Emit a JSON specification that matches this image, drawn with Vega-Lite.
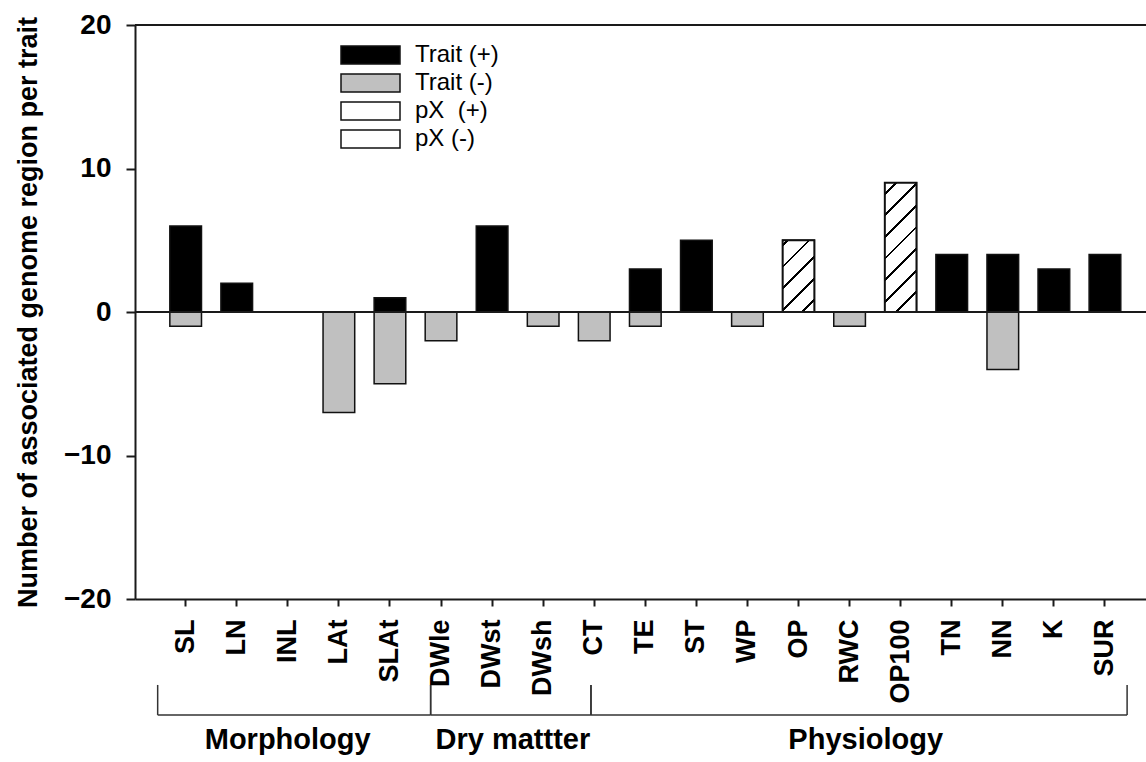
{
  "$schema": "https://vega.github.io/schema/vega-lite/v6.json",
  "width": 1011,
  "height": 574,
  "autosize": {"type": "none"},
  "padding": {"left": 135, "top": 25, "right": 0, "bottom": 163},
  "background": "white",
  "config": {
    "view": {"stroke": null},
    "font": "Liberation Sans",
    "axis": {
      "domainColor": "#1a1a1a",
      "tickColor": "#1a1a1a",
      "labelColor": "#000000",
      "titleColor": "#000000",
      "labelFont": "Liberation Sans",
      "titleFont": "Liberation Sans",
      "grid": false
    }
  },
  "datasets": {
    "bars": [
      {"trait": "SL", "kind": "Trait (+)", "value": 6},
      {"trait": "SL", "kind": "Trait (-)", "value": -1},
      {"trait": "LN", "kind": "Trait (+)", "value": 2},
      {"trait": "LAt", "kind": "Trait (-)", "value": -7},
      {"trait": "SLAt", "kind": "Trait (+)", "value": 1},
      {"trait": "SLAt", "kind": "Trait (-)", "value": -5},
      {"trait": "DWle", "kind": "Trait (-)", "value": -2},
      {"trait": "DWst", "kind": "Trait (+)", "value": 6},
      {"trait": "DWsh", "kind": "Trait (-)", "value": -1},
      {"trait": "CT", "kind": "Trait (-)", "value": -2},
      {"trait": "TE", "kind": "Trait (+)", "value": 3},
      {"trait": "TE", "kind": "Trait (-)", "value": -1},
      {"trait": "ST", "kind": "Trait (+)", "value": 5},
      {"trait": "WP", "kind": "Trait (-)", "value": -1},
      {"trait": "OP", "kind": "pX\u00a0 (+)", "value": 5},
      {"trait": "RWC", "kind": "Trait (-)", "value": -1},
      {"trait": "OP100", "kind": "pX\u00a0 (+)", "value": 9},
      {"trait": "TN", "kind": "Trait (+)", "value": 4},
      {"trait": "NN", "kind": "Trait (+)", "value": 4},
      {"trait": "NN", "kind": "Trait (-)", "value": -4},
      {"trait": "K", "kind": "Trait (+)", "value": 3},
      {"trait": "SUR", "kind": "Trait (+)", "value": 4}
    ],
    "groups": [
      {"group": "Morphology", "from": 0.444, "to": 5.79, "center": 2.99},
      {"group": "Dry mattter", "from": 5.79, "to": 8.93, "center": 7.4},
      {"group": "Physiology", "from": 8.93, "to": 19.43, "center": 14.31}
    ],
    "refs": [
      {"ref": 20},
      {"ref": 0}
    ]
  },
  "layer": [
    {
      "layer": [
        {
          "data": {"name": "bars"},
          "mark": {"type": "bar", "stroke": "#111111", "strokeWidth": 1.5},
          "encoding": {
            "x": {
              "field": "trait",
              "type": "nominal",
              "sort": null,
              "scale": {
                "domain": ["SL", "LN", "INL", "LAt", "SLAt", "DWle", "DWst", "DWsh", "CT", "TE", "ST", "WP", "OP", "RWC", "OP100", "TN", "NN", "K", "SUR"],
                "paddingInner": 0.38,
                "paddingOuter": 0.588,
                "align": 0.58
              },
              "axis": {
                "title": null,
                "labelAngle": 270,
                "labelFontSize": 27,
                "labelFontWeight": "bold",
                "labelPadding": 13,
                "tickSize": 7,
                "tickWidth": 2,
                "domainWidth": 2
              }
            },
            "y": {
              "field": "value",
              "type": "quantitative",
              "stack": null,
              "scale": {"domain": [-20, 20], "nice": false},
              "axis": {
                "title": "Number of associated genome region per trait",
                "titleFontSize": 27,
                "titleFontWeight": "bold",
                "titlePadding": 21,
                "values": [-20, -10, 0, 10, 20],
                "labelFontSize": 28,
                "labelFontWeight": "bold",
                "labelPadding": 15,
                "tickSize": 9,
                "tickWidth": 2,
                "domainWidth": 2
              }
            },
            "fill": {
              "field": "kind",
              "type": "nominal",
              "scale": {
                "domain": ["Trait (+)", "Trait (-)", "pX\u00a0 (+)", "pX (-)"],
                "range": ["#000000", "#c0c0c0", "#ffffff", "#ffffff"]
              },
              "legend": {
                "orient": "none",
                "legendX": 205,
                "legendY": 18,
                "title": null,
                "padding": 0,
                "symbolType": "M-1,-0.305H1V0.305H-1Z",
                "symbolSize": 3481,
                "symbolStrokeWidth": 1.5,
                "symbolStrokeColor": "#111111",
                "labelFont": "Liberation Sans",
                "labelFontSize": 24,
                "labelColor": "#000000",
                "labelOffset": 14,
                "clipHeight": 24,
                "rowPadding": 4
              }
            }
          }
        },
        {
          "data": {"name": "bars"},
          "transform": [{"filter": "datum.kind === 'pX\u00a0 (+)'"}],
          "mark": {"type": "bar", "stroke": "#111111", "strokeWidth": 2},
          "encoding": {
            "x": {
              "field": "trait",
              "type": "nominal",
              "sort": null,
              "scale": {
                "domain": ["SL", "LN", "INL", "LAt", "SLAt", "DWle", "DWst", "DWsh", "CT", "TE", "ST", "WP", "OP", "RWC", "OP100", "TN", "NN", "K", "SUR"],
                "paddingInner": 0.38,
                "paddingOuter": 0.588,
                "align": 0.58
              }
            },
            "y": {
              "field": "value",
              "type": "quantitative",
              "stack": null,
              "scale": {"domain": [-20, 20], "nice": false}
            },
            "fill": {
              "condition": {
                "test": "datum.trait === 'OP'",
                "value": {
                  "gradient": "linear", "x1": 0, "y1": 0, "x2": 0.5323, "y2": 1.2064,
                  "stops": [
                    {"offset": 0, "color": "#ffffff"},
                    {"offset": 0.0347, "color": "#ffffff"}, {"offset": 0.0347, "color": "#000000"},
                    {"offset": 0.0621, "color": "#000000"}, {"offset": 0.0621, "color": "#ffffff"},
                    {"offset": 0.2436, "color": "#ffffff"}, {"offset": 0.2436, "color": "#000000"},
                    {"offset": 0.2710, "color": "#000000"}, {"offset": 0.2710, "color": "#ffffff"},
                    {"offset": 0.4525, "color": "#ffffff"}, {"offset": 0.4525, "color": "#000000"},
                    {"offset": 0.4799, "color": "#000000"}, {"offset": 0.4799, "color": "#ffffff"},
                    {"offset": 0.6613, "color": "#ffffff"}, {"offset": 0.6613, "color": "#000000"},
                    {"offset": 0.6887, "color": "#000000"}, {"offset": 0.6887, "color": "#ffffff"},
                    {"offset": 0.8702, "color": "#ffffff"}, {"offset": 0.8702, "color": "#000000"},
                    {"offset": 0.8976, "color": "#000000"}, {"offset": 0.8976, "color": "#ffffff"},
                    {"offset": 1, "color": "#ffffff"}
                  ]
                }
              },
              "value": {
                "gradient": "linear", "x1": 0, "y1": 0, "x2": 0.2879, "y2": 1.1746,
                "stops": [
                  {"offset": 0, "color": "#ffffff"},
                  {"offset": 0.0596, "color": "#ffffff"}, {"offset": 0.0596, "color": "#000000"},
                  {"offset": 0.0772, "color": "#000000"}, {"offset": 0.0772, "color": "#ffffff"},
                  {"offset": 0.1939, "color": "#ffffff"}, {"offset": 0.1939, "color": "#000000"},
                  {"offset": 0.2115, "color": "#000000"}, {"offset": 0.2115, "color": "#ffffff"},
                  {"offset": 0.3283, "color": "#ffffff"}, {"offset": 0.3283, "color": "#000000"},
                  {"offset": 0.3459, "color": "#000000"}, {"offset": 0.3459, "color": "#ffffff"},
                  {"offset": 0.4626, "color": "#ffffff"}, {"offset": 0.4626, "color": "#000000"},
                  {"offset": 0.4802, "color": "#000000"}, {"offset": 0.4802, "color": "#ffffff"},
                  {"offset": 0.5969, "color": "#ffffff"}, {"offset": 0.5969, "color": "#000000"},
                  {"offset": 0.6145, "color": "#000000"}, {"offset": 0.6145, "color": "#ffffff"},
                  {"offset": 0.7313, "color": "#ffffff"}, {"offset": 0.7313, "color": "#000000"},
                  {"offset": 0.7489, "color": "#000000"}, {"offset": 0.7489, "color": "#ffffff"},
                  {"offset": 0.8656, "color": "#ffffff"}, {"offset": 0.8656, "color": "#000000"},
                  {"offset": 0.8832, "color": "#000000"}, {"offset": 0.8832, "color": "#ffffff"},
                  {"offset": 1, "color": "#ffffff"}
                ]
              }
            }
          }
        },
        {
          "data": {"name": "refs"},
          "mark": {"type": "rule", "stroke": "#1a1a1a", "strokeWidth": 2},
          "encoding": {
            "y": {
              "field": "ref",
              "type": "quantitative",
              "scale": {"domain": [-20, 20], "nice": false}
            }
          }
        }
      ]
    },
    {
      "data": {"name": "groups"},
      "layer": [
        {
          "mark": {"type": "rule", "stroke": "#333333", "strokeWidth": 1.5},
          "encoding": {
            "x": {"field": "from", "type": "quantitative", "scale": {"domain": [0, 19.8], "nice": false, "zero": false}, "axis": null},
            "x2": {"field": "to"},
            "y": {"datum": -28.08, "type": "quantitative", "scale": {"domain": [-20, 20], "nice": false}}
          }
        },
        {
          "mark": {"type": "rule", "stroke": "#333333", "strokeWidth": 1.5},
          "encoding": {
            "x": {"field": "from", "type": "quantitative", "scale": {"domain": [0, 19.8], "nice": false, "zero": false}, "axis": null},
            "y": {"datum": -25.99, "type": "quantitative", "scale": {"domain": [-20, 20], "nice": false}},
            "y2": {"datum": -28.08}
          }
        },
        {
          "mark": {"type": "rule", "stroke": "#333333", "strokeWidth": 1.5},
          "encoding": {
            "x": {"field": "to", "type": "quantitative", "scale": {"domain": [0, 19.8], "nice": false, "zero": false}, "axis": null},
            "y": {"datum": -25.99, "type": "quantitative", "scale": {"domain": [-20, 20], "nice": false}},
            "y2": {"datum": -28.08}
          }
        },
        {
          "mark": {"type": "text", "font": "Liberation Sans", "fontSize": 29, "fontWeight": "bold", "color": "#000000", "align": "center", "baseline": "alphabetic"},
          "encoding": {
            "x": {"field": "center", "type": "quantitative", "scale": {"domain": [0, 19.8], "nice": false, "zero": false}, "axis": null},
            "y": {"datum": -30.47, "type": "quantitative", "scale": {"domain": [-20, 20], "nice": false}},
            "text": {"field": "group"}
          }
        }
      ]
    }
  ],
  "resolve": {"scale": {"x": "independent"}}
}
